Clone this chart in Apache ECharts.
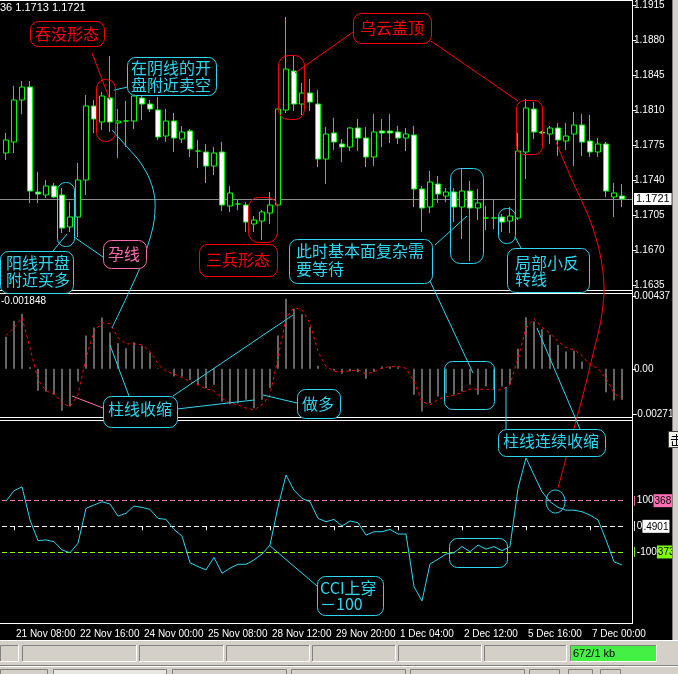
<!DOCTYPE html>
<html><head><meta charset="utf-8">
<script src="https://cdn.jsdelivr.net/npm/echarts@6/dist/echarts.min.js"></script>
<style>html,body{margin:0;padding:0;background:#000;}#c{width:678px;height:674px;}</style>
</head><body><div id="c"></div>
<script>
const times = ['21 Nov 04:00','21 Nov 08:00','21 Nov 12:00','21 Nov 16:00','21 Nov 20:00','22 Nov 00:00','22 Nov 04:00','22 Nov 08:00','22 Nov 12:00','22 Nov 16:00',
'22 Nov 20:00','23 Nov 00:00','23 Nov 04:00','23 Nov 08:00','23 Nov 12:00','23 Nov 16:00','23 Nov 20:00','24 Nov 00:00','24 Nov 04:00','24 Nov 08:00',
'24 Nov 12:00','24 Nov 16:00','24 Nov 20:00','25 Nov 00:00','25 Nov 04:00','25 Nov 08:00','25 Nov 12:00','25 Nov 16:00','25 Nov 20:00','27 Nov 20:00',
'28 Nov 00:00','28 Nov 04:00','28 Nov 08:00','28 Nov 12:00','28 Nov 16:00','28 Nov 20:00','29 Nov 00:00','29 Nov 04:00','29 Nov 08:00','29 Nov 12:00',
'29 Nov 16:00','29 Nov 20:00','30 Nov 00:00','30 Nov 04:00','30 Nov 08:00','30 Nov 12:00','30 Nov 16:00','30 Nov 20:00','1 Dec 00:00','1 Dec 04:00',
'1 Dec 08:00','1 Dec 12:00','1 Dec 16:00','1 Dec 20:00','2 Dec 00:00','2 Dec 04:00','2 Dec 08:00','2 Dec 12:00','2 Dec 16:00','2 Dec 20:00',
'4 Dec 20:00','5 Dec 00:00','5 Dec 04:00','5 Dec 08:00','5 Dec 12:00','5 Dec 16:00','5 Dec 20:00','6 Dec 00:00','6 Dec 04:00','6 Dec 08:00',
'6 Dec 12:00','6 Dec 16:00','6 Dec 20:00','7 Dec 00:00','7 Dec 04:00','7 Dec 08:00','7 Dec 12:00','7 Dec 16:00'];
const timeTickLabels = ['21 Nov 08:00','22 Nov 16:00','24 Nov 00:00','25 Nov 08:00','28 Nov 12:00','29 Nov 20:00','1 Dec 04:00','2 Dec 12:00','5 Dec 16:00','7 Dec 00:00'];

const opens = [1.1767,1.1778,1.1820,1.1833,1.1728,1.1725,1.1734,1.1725,1.1693,1.1703,
1.1740,1.1814,1.1798,1.1822,1.1797,1.1799,1.1799,1.1822,1.1816,1.1810,
1.1784,1.1799,1.1781,1.1789,1.1769,1.1768,1.1754,1.1768,1.1714,1.1716,
1.1715,1.1696,1.1699,1.1707,1.1715,1.1810,1.1849,1.1816,1.1827,1.1816,
1.1761,1.1787,1.1776,1.1773,1.1792,1.1782,1.1763,1.1789,1.1789,1.1788,
1.1782,1.1785,1.1731,1.1713,1.1736,1.1724,1.1728,1.1713,1.1729,1.1712,
1.1702,1.1702,1.1703,1.1699,1.1702,1.1768,1.1811,1.1788,1.1786,1.1792,
1.1779,1.1786,1.1795,1.1779,1.1768,1.1776,1.1723,1.1724];
const closes = [1.1780,1.1820,1.1833,1.1729,1.1726,1.1734,1.1723,1.1692,1.1703,1.1740,
1.1814,1.1801,1.1824,1.1798,1.1799,1.1799,1.1824,1.1816,1.1811,1.1783,
1.1799,1.1782,1.1788,1.1771,1.1769,1.1754,1.1767,1.1715,1.1727,1.1716,
1.1698,1.1700,1.1708,1.1715,1.1811,1.1851,1.1816,1.1827,1.1818,1.1761,
1.1786,1.1778,1.1773,1.1792,1.1782,1.1763,1.1788,1.1787,1.1787,1.1782,
1.1786,1.1731,1.1712,1.1738,1.1726,1.1728,1.1713,1.1729,1.1712,1.1717,
1.1702,1.1702,1.1698,1.1704,1.1769,1.1812,1.1788,1.1787,1.1792,1.1780,
1.1784,1.1795,1.1778,1.1768,1.1776,1.1729,1.1727,1.1721];
const lows = [1.1760,1.1767,1.1806,1.1717,1.1717,1.1722,1.1722,1.1687,1.1688,1.1683,
1.1725,1.1787,1.1790,1.1788,1.1762,1.1773,1.1791,1.1800,1.1808,1.1780,
1.1778,1.1768,1.1777,1.1763,1.1752,1.1737,1.1745,1.1709,1.1708,1.1710,
1.1688,1.1688,1.1680,1.1696,1.1713,1.1807,1.1809,1.1805,1.1809,1.1753,
1.1736,1.1770,1.1758,1.1769,1.1769,1.1753,1.1754,1.1773,1.1777,1.1776,
1.1769,1.1713,1.1688,1.1707,1.1717,1.1718,1.1698,1.1681,1.1659,1.1700,
1.1690,1.1691,1.1688,1.1687,1.1700,1.1741,1.1781,1.1786,1.1776,1.1764,
1.1770,1.1754,1.1764,1.1763,1.1763,1.1723,1.1703,1.1713];
const highs = [1.1787,1.1834,1.1839,1.1839,1.1748,1.1740,1.1737,1.1732,1.1718,1.1757,
1.1825,1.1820,1.1828,1.1864,1.1811,1.1819,1.1831,1.1831,1.1820,1.1823,
1.1811,1.1807,1.1794,1.1791,1.1780,1.1776,1.1773,1.1778,1.1734,1.1720,
1.1718,1.1704,1.1710,1.1728,1.1811,1.1903,1.1864,1.1837,1.1841,1.1830,
1.1793,1.1802,1.1781,1.1793,1.1801,1.1793,1.1806,1.1801,1.1806,1.1794,
1.1792,1.1794,1.1734,1.1749,1.1744,1.1732,1.1732,1.1751,1.1739,1.1731,
1.1714,1.1720,1.1706,1.1713,1.1787,1.1821,1.1818,1.1789,1.1794,1.1797,
1.1797,1.1808,1.1806,1.1805,1.1782,1.1778,1.1737,1.1736];
const bidPrice = 1.1721;
const priceTicks = [1.1635, 1.1920, 0.0035]; // min, max, step

const macdHist = [0.00192,0.00288,0.0033,0.0001,-0.00132,-0.00136,-0.00156,-0.00252,-0.00226,-0.00076,
0.002,0.00248,0.00308,0.00218,0.00154,0.00124,0.0016,0.00138,0.00098,0.00003,
-0.00003,-0.00046,-0.00046,-0.00066,-0.00096,-0.00116,-0.00096,-0.00196,-0.00212,-0.00206,
-0.00186,-0.00236,-0.00186,-0.00116,0.002,0.0042,0.0036,0.00328,0.0025,0.00018,
0.00002,-0.0001,-0.0003,-0.00015,-0.0002,-0.0006,-0.00018,0.00014,0.00014,0.0001,
0.00002,-0.00156,-0.00256,-0.00206,-0.00166,-0.00146,-0.00156,-0.00136,-0.00096,-0.00156,
-0.00106,-0.00126,-0.00106,-0.00092,0.0012,0.0031,0.00284,0.00238,0.00204,0.00144,
0.00104,0.00108,0.00044,0.00002,0.00001,-0.0014,-0.0019,-0.00185];
const macdSignal = [0.002,0.00246,0.00306,0.00126,-0.00066,-0.00132,-0.0015,-0.00204,-0.00228,-0.00156,
0.00066,0.00224,0.00276,0.0027,0.00188,0.0015,0.0015,0.00144,0.00104,0.0003,
-0.00016,-0.0003,-0.00052,-0.00076,-0.00096,-0.0012,-0.00132,-0.00176,-0.00206,-0.00216,
-0.00236,-0.00246,-0.00216,-0.00156,0.00066,0.00306,0.00368,0.00354,0.00274,0.00104,
0.00014,-0.00015,-0.00018,-0.00012,-0.00006,-0.00032,-0.00018,0.00004,0.00014,0.00014,
0.00004,-0.00076,-0.00196,-0.00216,-0.00186,-0.00166,-0.0016,-0.0014,-0.00122,-0.00122,
-0.00122,-0.00126,-0.00126,-0.00096,0.00064,0.00244,0.003,0.00248,0.00214,0.00164,
0.00128,0.00114,0.0008,0.00024,0.00004,-0.00056,-0.00146,-0.00176];
const macdTicks = [-0.00271, 0, 0.00437];
const macdLabel = '-0.001848';

const cci = [98,139,154,25,-56,-53,-60,-92,-103,-66,
70,83,96,87,40,51,79,74,66,31,
27,-12,-38,-142,-157,-170,-121,-183,-163,-148,
-148,-131,-108,-73,76,200,141,109,96,31,
18,27,1,21,14,-34,-21,-21,-12,-30,
-30,-235,-291,-147,-128,-108,-103,-79,-99,-73,
-89,-79,-95,-79,148,267,200,135,96,74,
63,63,57,44,25,-53,-138,-151];
const cciRange = [-381, 407];
const cciLevels = [100, 0, -100];
const cciLevelText = [['100','3681'], ['0','.4901'], ['-100','3731']];
const headerText = '36 1.1713 1.1721';

const CY = '#2fd6f0', RD = '#ff0000', PK = '#ff6eb4';
const candleData = opens.map((o, i) => [o, closes[i], lows[i], highs[i]]);
const showTime = (idx, v) => timeTickLabels.indexOf(v) >= 0;

const chart = echarts.init(document.getElementById('c'), null, {renderer: 'canvas'});
const G = {left: 2, width: 624};
const hideX = (gi) => ({type: 'category', gridIndex: gi, data: times, boundaryGap: true,
  axisLine: {show: false}, axisTick: {show: false}, axisLabel: {show: false}, splitLine: {show: false}});

function box(x, y, w, h, stroke, fill) {
  return {type: 'rect', z: 100, shape: {x: x + 0.5, y: y + 0.5, width: w, height: h, r: 8},
    style: {fill: fill || 'transparent', stroke: stroke, lineWidth: 1}};
}
function cap(x, y, w, h, stroke, r) {
  return {type: 'rect', z: 100, shape: {x: x + 0.5, y: y + 0.5, width: w, height: h, r: r || 8},
    style: {fill: 'transparent', stroke: stroke, lineWidth: 1}};
}
function txt(t, x, y, color, size, align) {
  return {type: 'text', z: 101, x: x, y: y, style: {text: t, fill: color,
    font: (size || 16) + 'px "Noto Sans CJK SC"', align: align || 'left', verticalAlign: 'middle',
    textAlign: align || 'left', textVerticalAlign: 'middle'}};
}
function pl(points, color, smooth) {
  return {type: 'polyline', z: 99, shape: {points: points, smooth: smooth || 0},
    style: {stroke: color, lineWidth: 1, fill: null}};
}
function hl(x1, y, x2, color) {
  return {type: 'line', z: 90, shape: {x1: x1, y1: y, x2: x2, y2: y}, style: {stroke: color, lineWidth: 1}};
}
function sunken(x, y, w, h, fill) {
  return [
    {type: 'rect', z: 81, shape: {x: x, y: y, width: w, height: h}, style: {fill: fill || '#d4d0c8'}},
    {type: 'polyline', z: 82, shape: {points: [[x + 0.5, y + h], [x + 0.5, y + 0.5], [x + w, y + 0.5]]}, style: {stroke: '#808080', lineWidth: 1, fill: null}},
    {type: 'polyline', z: 82, shape: {points: [[x + w - 0.5, y], [x + w - 0.5, y + h - 0.5], [x, y + h - 0.5]]}, style: {stroke: '#ffffff', lineWidth: 1, fill: null}}
  ];
}

const graphics = [
  // frame lines
  hl(0, 0.5, 632, '#fff'),
  {type: 'line', z: 90, shape: {x1: 632.5, y1: 0, x2: 632.5, y2: 624}, style: {stroke: '#fff', lineWidth: 1}},
  hl(0, 290.5, 632, '#fff'), hl(0, 293.5, 632, '#fff'),
  hl(0, 417.5, 632, '#fff'), hl(0, 420.5, 632, '#fff'),
  hl(0, 623.5, 632, '#fff'),
  // right window strip
  {type: 'rect', z: 80, shape: {x: 672, y: 0, width: 6, height: 674}, style: {fill: '#d4d0c8'}},
  {type: 'line', z: 81, shape: {x1: 672.5, y1: 0, x2: 672.5, y2: 640}, style: {stroke: '#808080', lineWidth: 1}},
  {type: 'rect', z: 83, shape: {x: 668.5, y: 431.5, width: 12, height: 16}, style: {fill: '#f4f4ec', stroke: '#404040', lineWidth: 1}},
  {type: 'text', z: 84, x: 670, y: 440, style: {text: '击', fill: '#000', font: '13px "Noto Sans CJK SC"', verticalAlign: 'middle', textVerticalAlign: 'middle'}},
  // status bar
  {type: 'rect', z: 80, shape: {x: 0, y: 640, width: 678, height: 34}, style: {fill: '#d4d0c8'}},
  hl(0, 640.5, 678, '#ffffff'),
  ...[[0,19],[22,115],[139,85],[226,84],[312,84],[398,84],[484,83]].flatMap(p => sunken(p[0], 645, p[1], 17)),
  ...sunken(570, 645, 87, 17, '#44f044'),
  {type: 'text', z: 85, x: 573, y: 654, style: {text: '672/1 kb', fill: '#000', font: '11px "Liberation Sans"', verticalAlign: 'middle', textVerticalAlign: 'middle'}},
  hl(0, 665.5, 678, '#808080'), hl(0, 666.5, 678, '#ffffff'),
  ...[[0,47],[53,113],[172,114],[291,114],[410,114],[529,30],[568,24],[600,20]].flatMap(p => [
    {type: 'rect', z: 81, shape: {x: p[0] + 0.5, y: 669.5, width: p[1], height: 8}, style: {fill: p[0] === 53 ? '#e8e6e0' : '#d4d0c8', stroke: '#808080', lineWidth: 1}}
  ]),
  // header text & macd value
  {type: 'text', z: 95, x: 0, y: 8, style: {text: headerText, fill: '#fff', font: '11px "Liberation Sans"', verticalAlign: 'middle', textVerticalAlign: 'middle'}},
  {type: 'text', z: 95, x: 1, y: 301, style: {text: macdLabel, fill: '#fff', font: '10px "Liberation Sans"', verticalAlign: 'middle', textVerticalAlign: 'middle'}},

  // 吞没形态
  box(30, 21, 74, 25, RD, '#000'), txt('吞没形态', 67, 34, RD, 16, 'center'),
  pl([[92, 53], [110, 100]], RD), cap(96, 79, 19, 62, RD, 9),
  // 在阴线的开盘附近卖空
  box(127, 57, 89, 38, CY, '#000'), txt('在阴线的开', 131, 68, CY), txt('盘附近卖空', 131, 85, CY),
  pl([[114, 90], [128, 87]], CY),
  pl([[112, 130], [128, 148], [140, 162], [150, 180], [155, 200], [153, 227], [141, 265], [130, 290], [112, 328]], CY, 0.3),
  // 阳线开盘附近买多
  cap(57, 182, 17, 64, CY, 8),
  box(0, 251, 73, 42, CY, '#000'), txt('阳线开盘', 6, 263, CY), txt('附近买多', 6, 280, CY),
  pl([[67, 234], [53, 251]], CY),
  pl([[74, 237], [103, 257]], CY),
  // 孕线
  box(103, 240, 43, 28, PK, '#000'), txt('孕线', 124, 254, PK, 16, 'center'),
  // 三兵形态
  cap(248, 197, 29, 45, RD, 10), box(199, 244, 78, 32, RD, '#000'), txt('三兵形态', 238, 260, RD, 16, 'center'),
  // 乌云盖顶
  cap(278, 55, 26, 64, RD, 10), box(353, 13, 78, 30, RD, '#000'), txt('乌云盖顶', 392, 28, RD, 16, 'center'),
  pl([[295, 73], [353, 32]], RD), pl([[431, 41], [518, 101]], RD),
  cap(516, 100, 26, 54, RD, 8),
  pl([[556, 142], [572, 180], [588, 215], [598, 245], [603, 272], [604, 292], [601, 320], [592, 358], [583, 395], [573, 432], [565, 462], [558, 488]], RD, 0.3),
  // 此时基本面复杂需要等待
  cap(450, 168, 33, 95, CY, 10),
  box(289, 239, 143, 44, CY, '#000'), txt('此时基本面复杂需', 296, 251, CY), txt('要等待', 296, 269, CY),
  pl([[435, 245], [467, 216]], CY), pl([[430, 281], [473, 373]], CY),
  // 局部小反转线
  cap(498, 208, 17, 35, CY, 8),
  box(507, 248, 82, 44, CY, '#000'), txt('局部小反', 515, 263, CY), txt('转线', 515, 279, CY),
  pl([[515, 237], [521, 248]], CY),
  // MACD annotations
  cap(444, 361, 50, 48, CY, 8),
  pl([[506, 387], [506, 429]], CY),
  pl([[537, 328], [580, 429]], CY),
  box(103, 396, 74, 31, CY, '#000'), txt('柱线收缩', 140, 409, CY, 16, 'center'),
  pl([[129, 396], [110, 345]], CY), pl([[173, 396], [293, 315]], CY), pl([[177, 409], [254, 400]], CY),
  pl([[72, 396], [103, 408]], PK),
  box(297, 389, 43, 29, CY, '#000'), txt('做多', 318, 404, CY, 16, 'center'),
  pl([[263, 395], [297, 403]], CY),
  box(498, 429, 107, 27, CY, '#000'), txt('柱线连续收缩', 551, 441, CY, 16, 'center'),
  // CCI annotations
  cap(449, 538, 58, 29, CY, 8),
  {type: 'ellipse', z: 100, shape: {cx: 555.5, cy: 501.5, rx: 9.5, ry: 11.5}, style: {fill: 'transparent', stroke: CY, lineWidth: 1}},
  box(317, 576, 66, 39, CY, '#000'), txt('CCI上穿', 320, 588, CY), txt('－100', 320, 604, CY),
  pl([[269, 545], [317, 586]], CY)
];

const levelColors = [PK, '#ffffff', '#7fff00'];

const option = {
  backgroundColor: '#000',
  animation: false,
  grid: [
    {left: G.left, width: G.width, top: 0, height: 285},
    {left: G.left, width: G.width, top: 296, height: 118},
    {left: G.left, width: G.width, top: 422, height: 202}
  ],
  xAxis: [hideX(0), hideX(1), {
    type: 'category', gridIndex: 2, data: times, boundaryGap: true,
    axisLine: {show: false},
    axisTick: {show: true, interval: showTime, alignWithLabel: true, length: 4, lineStyle: {color: '#fff'}},
    axisLabel: {show: true, interval: showTime, color: '#fff', fontSize: 10, fontFamily: 'Liberation Sans', align: 'left', margin: 5, padding: [0, 0, 0, 2]},
    splitLine: {show: false}
  }],
  yAxis: [
    {type: 'value', gridIndex: 0, position: 'right', offset: 6, min: priceTicks[0], max: priceTicks[1], interval: priceTicks[2],
      axisLine: {show: false}, splitLine: {show: false},
      axisTick: {show: true, length: 4, lineStyle: {color: '#fff'}},
      axisLabel: {color: '#fff', fontSize: 10, fontFamily: 'Liberation Sans', margin: 2, showMaxLabel: false,
        formatter: v => (Math.abs((v - priceTicks[0]) / priceTicks[2] - Math.round((v - priceTicks[0]) / priceTicks[2])) < 1e-6) ? v.toFixed(4) : ''}},
    {type: 'value', gridIndex: 1, position: 'right', offset: 6, min: macdTicks[0], max: macdTicks[2],
      axisLine: {show: false}, splitLine: {show: false},
      axisTick: {show: true, length: 4, lineStyle: {color: '#fff'}, customValues: macdTicks},
      axisLabel: {color: '#fff', fontSize: 10, fontFamily: 'Liberation Sans', margin: 2, customValues: macdTicks,
        formatter: v => v === 0 ? '0.00' : v.toFixed(5)}},
    {type: 'value', gridIndex: 2, position: 'right', offset: 6, min: cciRange[0], max: cciRange[1],
      axisLine: {show: false}, splitLine: {show: false}, axisTick: {show: false}, axisLabel: {show: false}}
  ],
  series: [
    {type: 'candlestick', xAxisIndex: 0, yAxisIndex: 0, data: candleData, barWidth: 5, z: 3,
      itemStyle: {color: '#000', color0: '#fff', borderColor: '#00ff00', borderColor0: '#00ff00', borderColorDoji: '#00ff00', borderWidth: 1}},
    {type: 'line', xAxisIndex: 0, yAxisIndex: 0, data: closes, symbol: 'none', silent: true, z: 1,
      lineStyle: {opacity: 0},
      markLine: {symbol: 'none', silent: true, z: 1,
        lineStyle: {color: '#8c8c8c', type: 'solid', width: 1},
        label: {show: true, position: 'end', distance: 2, formatter: () => bidPrice.toFixed(4), color: '#000', backgroundColor: '#fff',
          fontSize: 11, fontFamily: 'Liberation Sans', padding: [1, 2, 0, 2]},
        data: [[{xAxis: 0, yAxis: bidPrice, x: 0}, {yAxis: bidPrice, x: 632}]]}},
    {type: 'bar', xAxisIndex: 1, yAxisIndex: 1, data: macdHist, barWidth: 1, itemStyle: {color: '#c8c8c8'}},
    {type: 'line', xAxisIndex: 1, yAxisIndex: 1, data: macdSignal, symbol: 'none',
      lineStyle: {color: '#ff0000', width: 1, type: [3, 3]}},
    {type: 'line', xAxisIndex: 2, yAxisIndex: 2, data: cci, symbol: 'none', z: 5,
      lineStyle: {color: CY, width: 1},
      markLine: {symbol: 'none', silent: true, z: 2,
        data: cciLevels.map((lv, k) => ({yAxis: lv, lineStyle: {color: levelColors[k], type: [5, 3], width: 1},
          label: {show: true, position: 'end', distance: 7,
            formatter: '{c||}{a|' + cciLevelText[k][0] + '}{b|' + cciLevelText[k][1] + '}',
            rich: {c: {color: levelColors[k], fontSize: 11, fontFamily: 'Liberation Sans', padding: [0, 1, 0, 0]},
              a: {color: '#fff', fontSize: 10, fontFamily: 'Liberation Sans'},
              b: {color: '#000', backgroundColor: levelColors[k], fontSize: 10, fontFamily: 'Liberation Sans', padding: [2, 1, 1, 1]}}}}))}}
  ],
  graphic: graphics
};
chart.setOption(option);
</script></body></html>
